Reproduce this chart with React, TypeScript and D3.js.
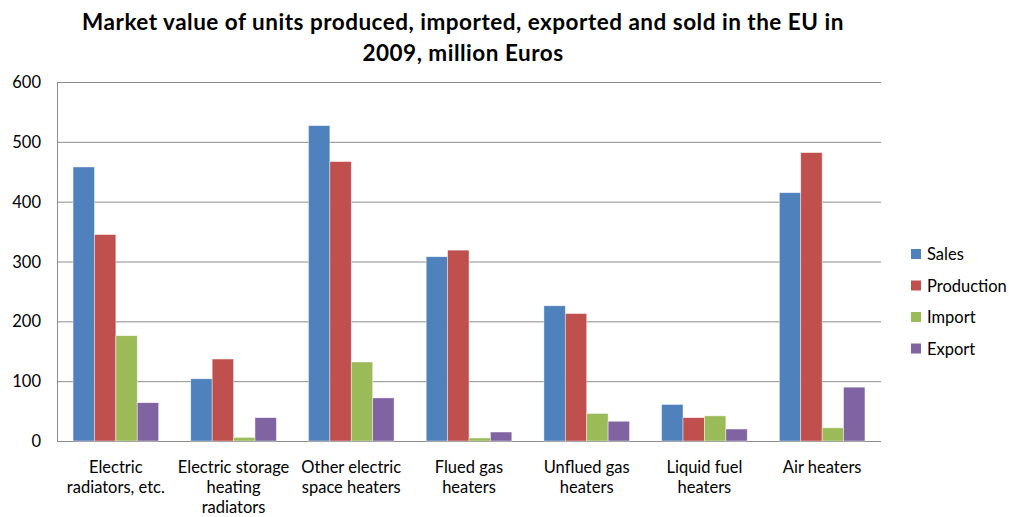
import React, { useEffect, useRef } from 'react';
import * as d3 from 'd3';

const categories = [
  ['Electric', 'radiators, etc.'],
  ['Electric storage', 'heating', 'radiators'],
  ['Other electric', 'space heaters'],
  ['Flued gas', 'heaters'],
  ['Unflued gas', 'heaters'],
  ['Liquid fuel', 'heaters'],
  ['Air heaters'],
];
const seriesNames = ['Sales', 'Production', 'Import', 'Export'];
const sales = [458, 104, 527, 308, 226, 61, 415];
const production = [345, 137, 467, 319, 213, 39, 482];
const imports = [176, 6, 132, 5, 46, 42, 22];
const exports = [64, 39, 72, 15, 33, 20, 90];
const yTicks = [0, 100, 200, 300, 400, 500, 600];
const colors = ['#4F81BD', '#C0504D', '#9BBB59', '#8064A2'];

const App: React.FC = () => {
  const svgRef = useRef<SVGSVGElement>(null);

  useEffect(() => {
    if (!svgRef.current) return;
    const svg = d3.select(svgRef.current);
    svg.selectAll('*').remove();

    const font = 'Lato, "Open Sans", sans-serif';
    const left = 57, right = 881, top = 82, bottom = 441;
    const values = [sales, production, imports, exports];

    const x = d3.scaleBand<number>()
      .domain(d3.range(categories.length))
      .range([left, right]);
    const barW = x.bandwidth() / 5.5;
    const y = d3.scaleLinear().domain([0, 600]).range([bottom, top]);

    // Title
    const title = svg.append('text')
      .attr('text-anchor', 'middle')
      .attr('font-family', font)
      .attr('font-weight', 'bold')
      .attr('font-size', 22.5)
      .attr('letter-spacing', 0.5)
      .attr('fill', '#000');
    title.append('tspan').attr('x', 463).attr('y', 30)
      .text('Market value of units produced, imported, exported and sold in the EU in');
    title.append('tspan').attr('x', 463).attr('y', 61).text('2009, million Euros');

    // Gridlines
    svg.append('g').selectAll('line')
      .data(yTicks)
      .enter().append('line')
      .attr('x1', left).attr('x2', right)
      .attr('y1', d => y(d) + 0.5).attr('y2', d => y(d) + 0.5)
      .attr('stroke', '#8c8c8c')
      .attr('stroke-width', 1);

    // Left axis line
    svg.append('line')
      .attr('x1', left + 0.5).attr('x2', left + 0.5)
      .attr('y1', top).attr('y2', bottom + 1)
      .attr('stroke', '#8c8c8c');

    // Y labels
    svg.append('g').selectAll('text')
      .data(yTicks)
      .enter().append('text')
      .attr('x', 41)
      .attr('y', d => y(d) + 6)
      .attr('text-anchor', 'end')
      .attr('font-family', font)
      .attr('font-size', 16.5)
      .attr('fill', '#000')
      .text(d => d);

    // Bars
    values.forEach((vals, s) => {
      svg.append('g').selectAll('rect')
        .data(vals)
        .enter().append('rect')
        .attr('x', (d, i) => (x(i) || 0) + barW * 0.75 + s * barW)
        .attr('y', d => y(d))
        .attr('width', barW)
        .attr('height', d => bottom - y(d))
        .attr('fill', colors[s])
        .attr('stroke', 'rgba(255,255,255,0.6)')
        .attr('stroke-width', 0.7);
    });

    // Category labels
    categories.forEach((lines, i) => {
      const t = svg.append('text')
        .attr('text-anchor', 'middle')
        .attr('font-family', font)
        .attr('font-size', 16.5)
        .attr('fill', '#000');
      lines.forEach((ln, j) => {
        t.append('tspan')
          .attr('x', (x(i) || 0) + x.bandwidth() / 2)
          .attr('y', 473 + j * 20)
          .text(ln);
      });
    });

    // Legend
    const lg = svg.append('g');
    seriesNames.forEach((name, i) => {
      const ly = 254 + i * 31.5;
      lg.append('rect')
        .attr('x', 911).attr('y', ly - 5)
        .attr('width', 10).attr('height', 10)
        .attr('fill', colors[i]);
      lg.append('text')
        .attr('x', 927).attr('y', ly + 6)
        .attr('font-family', font)
        .attr('font-size', 16.5)
        .attr('fill', '#000')
        .text(name);
    });
  }, []);

  return (
    <svg
      ref={svgRef}
      width={1009}
      height={517}
      style={{ position: 'absolute', left: 0, top: 0, background: '#fff' }}
    />
  );
};

export default App;
